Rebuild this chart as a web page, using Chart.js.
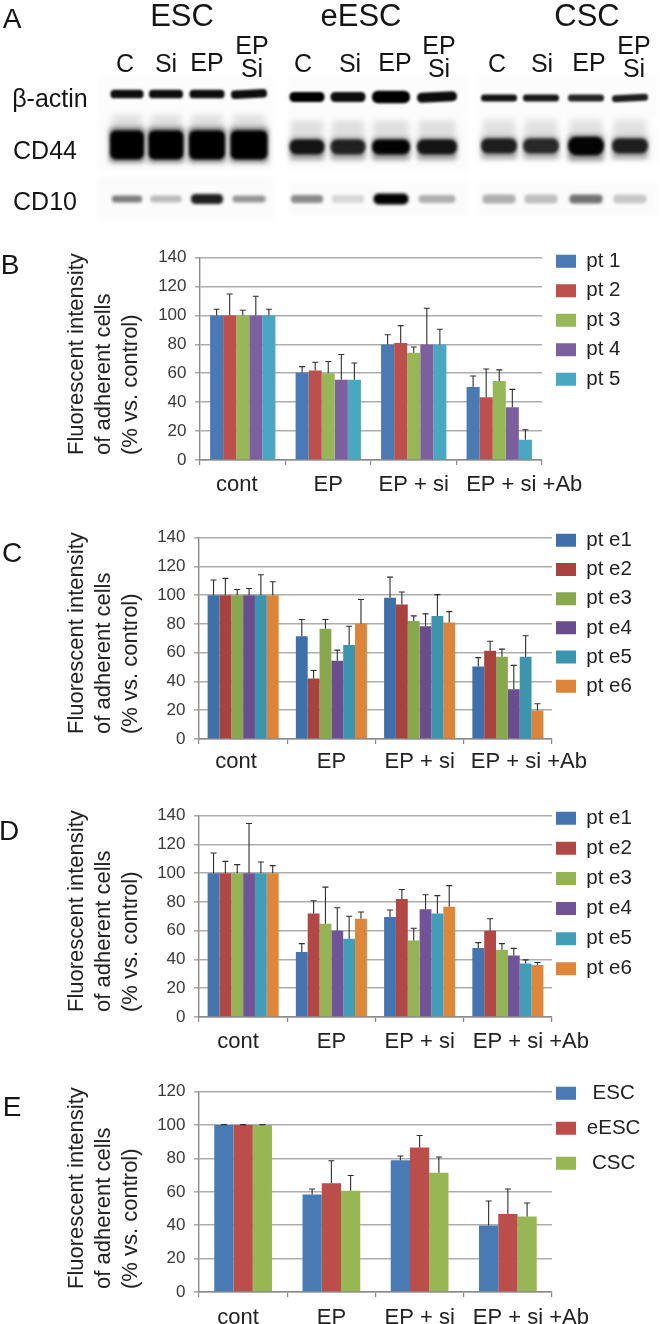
<!DOCTYPE html>
<html><head><meta charset="utf-8">
<script src="https://cdn.jsdelivr.net/npm/chart.js@4"></script>
<style>
html,body{margin:0;padding:0;background:#fff}
#page{position:relative;width:660px;height:1324px;overflow:hidden;background:#fff;filter:blur(.35px);font-family:"Liberation Sans",Arial,sans-serif;color:#151515}
#page canvas{position:absolute;left:0}
.t{position:absolute;white-space:nowrap;line-height:1;transform:translate(-50%,-50%)}
</style></head><body><div id="page"><canvas id="blot" width="660" height="230" style="top:0"></canvas></div>
<script>
// ---------- data ----------
const categories = ["cont","EP","EP + si","EP + si +Ab"];

const ptLabels  = ["pt 1","pt 2","pt 3","pt 4","pt 5"];
const bPt1 = [100,60.5,80,50.5],  bPt1Top = [104.3,64.6,86.7,58.1];
const bPt2 = [100,62,81,43.5],    bPt2Top = [114.9,67.6,93,63];
const bPt3 = [100,60,74.3,54.7],  bPt3Top = [103.6,68.2,78.2,62.4];
const bPt4 = [100,55.5,80,36.5],  bPt4Top = [113.3,73,105,48.9];
const bPt5 = [100,55.5,80,14],    bPt5Top = [104.3,67.1,90.5,20.9];

const ePtLabels = ["pt e1","pt e2","pt e3","pt e4","pt e5","pt e6"];
const cE1 = [100,71.4,98.2,50.5], cE1Top = [110.6,83.1,112.6,56.6];
const cE2 = [100,42,93.5,61.3],   cE2Top = [111.7,47.6,102.2,68];
const cE3 = [100,76.7,82,57.2],   cE3Top = [104,83.1,85.6,62.5];
const cE4 = [100,54.5,78.5,34.6], cE4Top = [104.7,61.8,87,51.2];
const cE5 = [100,65.3,85.5,57.2], cE5Top = [114.2,78.4,100.4,71.8];
const cE6 = [100,80.2,81,19.9],   cE6Top = [109.4,97,88.6,24.5];

const dE1 = [100,45.2,69.6,48],   dE1Top = [114.1,51,74.4,51.7];
const dE2 = [100,71.9,82,60],     dE2Top = [108.2,80.8,88.7,68.3];
const dE3 = [100,64.8,53.2,46.7], dE3Top = [106,90.3,61.7,51];
const dE4 = [100,60,74.9,42.8],   dE4Top = [134.6,76,85,47.7];
const dE5 = [100,54.5,71.9,37.2], dE5Top = [107.8,70.1,84.4,39.7];
const dE6 = [100,68.4,76.6,36.2], dE6Top = [105.3,73,91.4,37.9];

const cellLabels = ["ESC","eESC","CSC"];
const eESC  = [100,58.4,79,39.9],   eESCTop  = [100.3,61.7,81.5,54.5];
const eEESC = [100,65.2,86.6,46.7], eEESCTop = [100.3,78.6,93.8,61.7];
const eCSC  = [100,60.7,71.4,45.3], eCSCTop  = [100.3,69.8,80.9,53.3];

const yTitle = ["Fluorescent intensity","of adherent cells","(% vs. control)"];

// Western blot band strengths (0-1), one row per antibody, lanes C, Si, EP, EP Si per group
const actinBands = [[.95,.95,.95,.95],[1,.95,1,.95],[.92,.9,.85,.88]];
const cd44Bands  = [[1,1,1,1],[.88,.8,.98,.88],[.82,.76,.98,.82]];
const cd10Bands  = [[.5,.25,.88,.4],[.45,.14,1,.3],[.3,.24,.55,.2]];

// ---------- western blot ----------
const groupNames = ["ESC","eESC","CSC"];
const laneCenters = [[127,166,207,249],[307,348,391,437],[499,541,586,630]];
const laneWidths  = [[33,34,35,36],[35,35,38,40],[36,36,36,36]];
const page = document.getElementById('page');
const bctx = document.getElementById('blot').getContext('2d');
function patch(x,y,w,h,c){bctx.filter='blur(2px)';bctx.fillStyle=c;bctx.fillRect(x,y,w,h);}
[[97,274],[288,468],[478,658]].forEach(([a,b],g)=>{
  patch(a,g==0?76:74,b-a,44,'#fcfcfc');
  patch(a,g==2?127:120,b-a,g==2?36:50,'#fbfbfb');
  patch(a,g==0?176:182,b-a,g==0?44:34,'#fbfbfb');
});
function band(cx,cy,w,h,a,blur,tilt,r){
  bctx.save();bctx.filter=`blur(${blur}px)`;bctx.fillStyle=`rgba(0,0,0,${a})`;
  bctx.translate(cx,cy);bctx.rotate(tilt||0);
  bctx.beginPath();bctx.roundRect(-w/2,-h/2,w,h,r||h/2.2);bctx.fill();bctx.restore();
}
const actinY=[94,97,98], actinH=[8.5,10,7], cd44Y=[145,147,146], cd44H=[29,15,15], cd10Y=[199,199,199], cd10H=[7,8,9];
laneCenters.forEach((lanes,g)=>lanes.forEach((cx,l)=>{
  const w=laneWidths[g][l];
  band(cx,actinY[g],w,actinH[g]*(g==1&&l==2?1.25:1),actinBands[g][l],1.1,l==3?-.05:0);
  const s=cd44Bands[g][l];
  band(cx,cd44Y[g]-15,w*.92,g==0?30:24,.11,3,0,3);
  band(cx,cd44Y[g]+(g==0?0:2),w+(g==0?3:0),cd44H[g]*(g==2&&l==2?1.25:1)+7,s*.4,2.5,0,4);
  band(cx,cd44Y[g],w+(g==0?1:0),cd44H[g]*(g==2&&l==2?1.25:1),s,1.6,0,g==0?6:0);
  band(cx,cd10Y[g],w*.92,cd10H[g]+(cd10Bands[g][l]>.8?3:0),cd10Bands[g][l],1.8);
}));
bctx.filter='none';
function txt(s,x,y,size,c){const e=document.createElement('div');e.className='t';e.textContent=s;
  e.style.left=x+'px';e.style.top=y+'px';e.style.fontSize=size+'px';if(c)e.style.color=c;page.appendChild(e);}
[["A",12,19],["B",10,265],["C",12,553],["D",9,831],["E",12,1107]].forEach(p=>txt(p[0],p[1],p[2],28));
[182,361,587].forEach((x,i)=>txt(groupNames[i],x,15,31));
laneCenters.forEach((lanes,g)=>{
  const cx=[[125,166,207,252],[303,350,395,439],[497,542,589,634]][g];
  txt("C",cx[0],63,25);txt("Si",cx[1],63,25);txt("EP",cx[2],62,25);
  txt("EP",cx[3],45,25);txt("Si",cx[3],68,25);
});
txt("β-actin",50,98,25);txt("CD44",45,150,25);txt("CD10",45,201,25);

// ---------- charts ----------
const colorsLight=["#4a7ab4","#bd4f4c","#98b858","#7c5f9f","#49a7c2"];
const colorsDark=["#3f70aa","#a8423f","#88a84d","#6a4d8c","#3c94ad","#dc8439"];
const colorsMid=["#4574ae","#b24845","#93b354","#715497","#429eb8","#de8639"];
const colorsE=["#4a7ab4","#bb4d4a","#97b755"];

const rig={
  id:'rig',
  afterLayout(c){const o=c.options.plugins.rig,l=c.legend,p=o.legendPad;
    l.left=o.legendX-p;l.right=o.legendR;l.top=o.legendY-c.canvas.offsetTop-p;},
  beforeDraw(c){const o=c.options.plugins.rig,s=c.scales.x,items=s.getLabelItems();
    if(!items._moved){items.forEach((it,i)=>{it.options.translation[0]+=o.labelShift[i];});items._moved=true;}
    const yS=c.scales.y;
    if(!yS._titleLifted){const orig=yS.drawTitle;yS.drawTitle=function(){c.ctx.save();c.ctx.translate(0,-o.titleLift);orig.call(this);c.ctx.restore();};yS._titleLifted=true;}},
  afterDatasetsDraw(c){const ctx=c.ctx,y=c.scales.y;ctx.save();ctx.strokeStyle='#2e2e2e';ctx.lineWidth=1.1;
    c.data.datasets.forEach((d,i)=>{c.getDatasetMeta(i).data.forEach((bar,j)=>{
      const py=y.getPixelForValue(d.upper[j]),by=y.getPixelForValue(d.data[j]);
      ctx.beginPath();ctx.moveTo(bar.x,by);ctx.lineTo(bar.x,py);
      ctx.moveTo(bar.x-3,py);ctx.lineTo(bar.x+3,py);ctx.stroke();});});ctx.restore();}
};
function panel(cfg){
  const topPad=14,xH=46,H=cfg.bottom-cfg.top+topPad+xH;
  const cv=document.createElement('canvas');cv.width=660;cv.height=H;cv.style.top=(cfg.top-topPad)+'px';cv.style.width='660px';cv.style.height=H+'px';page.appendChild(cv);
  new Chart(cv,{type:'bar',
    data:{labels:categories,datasets:cfg.labels.map((label,i)=>({label,data:cfg.values[i],upper:cfg.tops[i],backgroundColor:cfg.colors[i],borderWidth:0,
      categoryPercentage:cfg.catPct,barPercentage:1}))},
    plugins:[rig],
    options:{responsive:false,animation:false,devicePixelRatio:1,
      layout:{padding:{top:topPad,right:660-cfg.right,bottom:0,left:0}},
      plugins:{tooltip:{enabled:false},
        rig:{legendX:556,legendY:cfg.legendY,legendPad:cfg.rowPad,legendR:cfg.legendR||650,labelShift:cfg.shift,titleLift:cfg.titleLift||5},
        legend:{position:'chartArea',align:'start',labels:{boxWidth:20,boxHeight:13,padding:cfg.rowPad,color:'#222',textAlign:cfg.legendAlign||'left',font:{family:'"Liberation Sans"',size:20.5}}}},
      scales:{
        x:{afterFit(s){s.height=xH;},
          grid:{drawOnChartArea:false,drawTicks:true,tickLength:5,color:'#8a8a8a',lineWidth:1.2},
          border:{color:'#8a8a8a',width:1.6},
          ticks:{autoSkip:false,maxRotation:0,minRotation:0,padding:cfg.labelPad,color:'#222',font:{family:'"Liberation Sans"',size:22}}},
        y:{min:0,max:cfg.max,afterFit(s){s.width=cfg.left;},
          title:{display:true,text:yTitle,align:'start',color:'#222',padding:{top:63.5,bottom:0},font:{family:'"Liberation Sans"',size:22,lineHeight:1.23}},
          grid:{color:'#adadad',lineWidth:1.6,tickLength:5},
          border:{color:'#8a8a8a',width:1.4},
          ticks:{stepSize:20,padding:8.5,color:'#3a3a3a',font:{family:'"Liberation Sans"',size:17}}}
      }}});
}
panel({labels:ptLabels,values:[bPt1,bPt2,bPt3,bPt4,bPt5],tops:[bPt1Top,bPt2Top,bPt3Top,bPt4Top,bPt5Top],colors:colorsLight,
  top:253,bottom:460,left:200,right:542,max:140,catPct:.764,legendY:251,rowPad:9,labelPad:7,shift:[-6,0,0,25]});
panel({labels:ePtLabels,values:[cE1,cE2,cE3,cE4,cE5,cE6],tops:[cE1Top,cE2Top,cE3Top,cE4Top,cE5Top,cE6Top],colors:colorsDark,
  top:533,bottom:739,left:199,right:552,max:140,catPct:.805,legendY:530,rowPad:8.7,labelPad:5,shift:[-7,0,0,21]});
panel({labels:ePtLabels,values:[dE1,dE2,dE3,dE4,dE5,dE6],tops:[dE1Top,dE2Top,dE3Top,dE4Top,dE5Top,dE6Top],colors:colorsMid,
  top:811,bottom:1017,left:199,right:552,max:140,catPct:.805,legendY:808,rowPad:9.6,labelPad:7,shift:[-5,0,0,23]});
panel({labels:cellLabels,values:[eESC,eEESC,eCSC],tops:[eESCTop,eEESCTop,eCSCTop],colors:colorsE,
  top:1087,bottom:1292,left:199,right:552,max:120,catPct:.654,legendY:1083,rowPad:14.5,labelPad:7.5,shift:[-5,0,0,23],legendAlign:'center',legendR:641,titleLift:3});
</script></body></html>
